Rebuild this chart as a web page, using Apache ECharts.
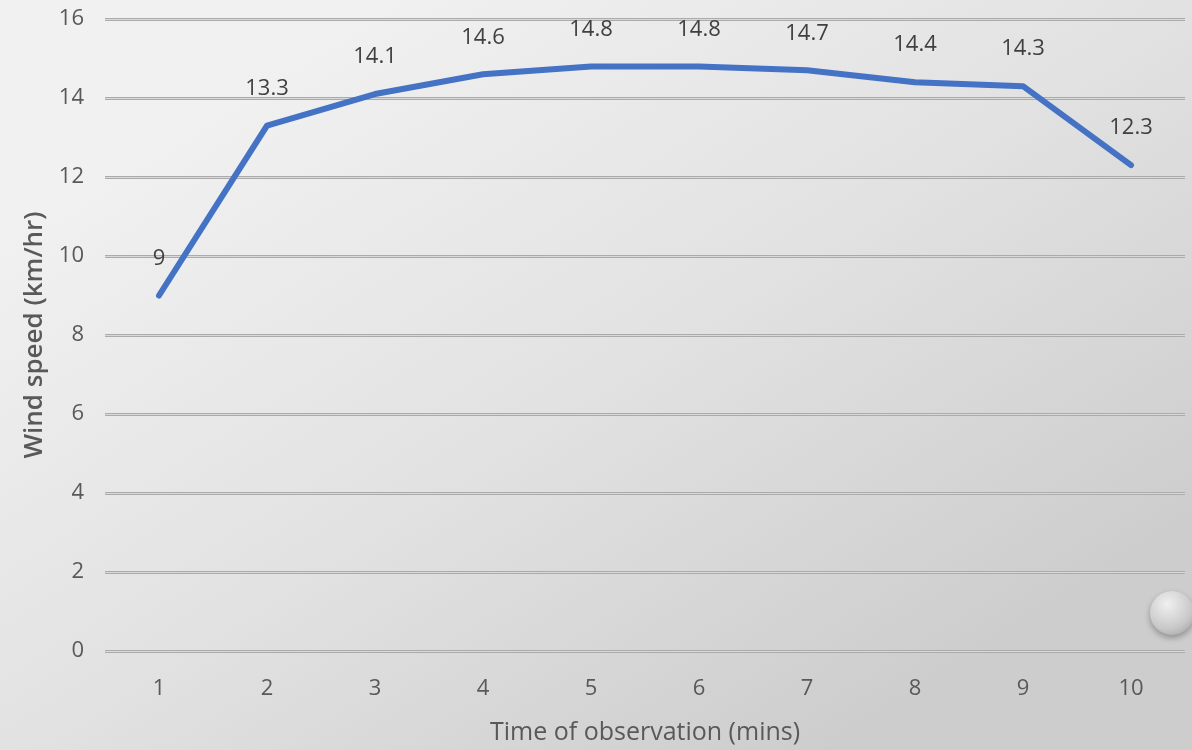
<!DOCTYPE html>
<html><head><meta charset="utf-8">
<script src="https://cdn.jsdelivr.net/npm/echarts@6/dist/echarts.min.js"></script>
<style>html,body{margin:0;padding:0;}#c{width:1192px;height:750px;}</style>
</head><body><div id="c"></div>
<script>
const categories = ['1','2','3','4','5','6','7','8','9','10'];
const windSpeed = [9, 13.3, 14.1, 14.6, 14.8, 14.8, 14.7, 14.4, 14.3, 12.3];
const xTitle = 'Time of observation (mins)';
const yTitle = 'Wind speed (km/hr)';
const FONT = '"Open Sans", "Liberation Sans", sans-serif';

const chart = echarts.init(document.getElementById('c'));
chart.setOption({
  backgroundColor: {type:'linear', x:0.3, y:0, x2:0.7, y2:1, colorStops:[{offset:0,color:'#f1f1f1'},{offset:0.5,color:'#e2e2e2'},{offset:1,color:'#cdcdcd'}]},
  animation:false,
  grid:{left:105, right:7, top:19, bottom:99, outerBoundsMode:'none', containLabel:false},
  xAxis:{type:'category', data:categories, boundaryGap:true,
    name:xTitle, nameLocation:'middle', nameGap:69,
    nameTextStyle:{color:'#595959', fontSize:25, fontFamily:FONT},
    axisLine:{show:false}, axisTick:{show:false},
    axisLabel:{color:'#595959', fontSize:22, fontFamily:FONT, margin:27}},
  yAxis:[{type:'value', min:0, max:16, interval:2,
    name:yTitle, nameLocation:'middle', nameGap:57,
    nameTextStyle:{color:'#595959', fontSize:26, fontWeight:600, fontFamily:FONT},
    axisLine:{show:false}, axisTick:{show:false},
    axisLabel:{color:'#595959', fontSize:22, fontFamily:FONT, margin:21},
    splitLine:{lineStyle:{color:'#ababab', width:3}}},
    {type:'value', min:0, max:16, interval:2, position:'left',
    axisLine:{show:false}, axisTick:{show:false}, axisLabel:{show:false},
    splitLine:{lineStyle:{color:'#d9d9d9', width:1}}}],
  series:[{type:'line', data:windSpeed, symbol:'circle', symbolSize:2, showSymbol:true,
    itemStyle:{color:'rgba(68,114,196,0)'},
    lineStyle:{color:'#4472C4', width:6, cap:'round', join:'round'},
    label:{show:true, position:'top', distance:25, color:'#404040', fontSize:22, fontFamily:FONT}}],
  graphic:[{type:'circle', shape:{cx:1172, cy:613, r:22},
    style:{fill:{type:'radial', x:0.4, y:0.3, r:0.8, colorStops:[{offset:0,color:'#f0f0f0'},{offset:0.7,color:'#c8c8c8'},{offset:1,color:'#a8a8a8'}]},
      shadowBlur:6, shadowColor:'rgba(0,0,0,0.3)', shadowOffsetY:3}}]
});
</script></body></html>
